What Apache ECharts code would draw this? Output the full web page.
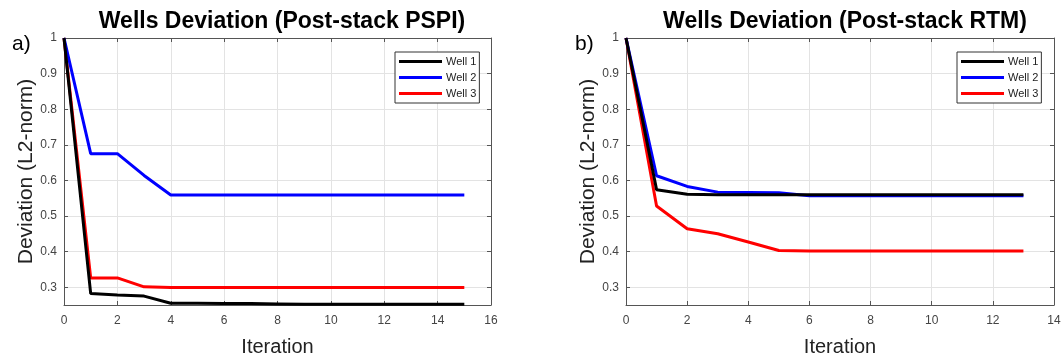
<!DOCTYPE html>
<html>
<head>
<meta charset="utf-8">
<script src="https://cdn.jsdelivr.net/npm/echarts@6/dist/echarts.min.js"></script>
<style>html,body{margin:0;padding:0;background:#fff}#c{width:1062px;height:358px}</style>
</head>
<body>
<div id="c"></div>
<script>
// Panel a) Post-stack PSPI, iterations 0..15
const iterA = [0,1,2,3,4,5,6,7,8,9,10,11,12,13,14,15];
const a_well1 = [1,0.282,0.278,0.275,0.255,0.255,0.254,0.254,0.253,0.252,0.252,0.252,0.252,0.252,0.252,0.252];
const a_well2 = [1,0.675,0.675,0.614,0.559,0.559,0.559,0.559,0.559,0.559,0.559,0.559,0.559,0.559,0.559,0.559];
const a_well3 = [1,0.326,0.326,0.301,0.299,0.299,0.299,0.299,0.299,0.299,0.299,0.299,0.299,0.299,0.299,0.299];
// Panel b) Post-stack RTM, iterations 0..13
const iterB = [0,1,2,3,4,5,6,7,8,9,10,11,12,13];
const b_well1 = [1,0.574,0.561,0.560,0.560,0.560,0.560,0.560,0.560,0.560,0.560,0.560,0.560,0.560];
const b_well2 = [1,0.613,0.583,0.567,0.566,0.565,0.557,0.557,0.557,0.557,0.557,0.557,0.557,0.557];
const b_well3 = [1,0.528,0.464,0.450,0.427,0.403,0.402,0.402,0.402,0.402,0.402,0.402,0.402,0.402];
const yTicks = [0.3,0.4,0.5,0.6,0.7,0.8,0.9,1];
const titles = ['Wells Deviation (Post-stack PSPI)','Wells Deviation (Post-stack RTM)'];
const panelLabels = ['a)','b)'];
const names = ['Well 1','Well 2','Well 3'];
const colors = ['#000000','#0000ff','#ff0000'];

const zip = (xs, ys) => xs.map((x,i)=>[x, ys[i]]);
const FONT = 'Liberation Sans, Arial, sans-serif';
const borderColor = '#555';
const gridColor = '#e3e3e3';

function xAxes(gi, max) {
  return [
    {type:'value', gridIndex:gi, position:'bottom', min:0, max:max, interval:2,
     name:'Iteration', nameLocation:'middle', nameGap:32,
     nameTextStyle:{fontSize:20, color:'#222', fontFamily:FONT},
     axisLine:{show:true, onZero:false, lineStyle:{color:borderColor, width:1}},
     axisTick:{show:true, inside:true, length:4, lineStyle:{color:borderColor}},
     axisLabel:{fontSize:12, color:'#444', margin:10, fontFamily:FONT},
     splitLine:{show:true, lineStyle:{color:gridColor, width:1}}},
    {type:'value', gridIndex:gi, position:'top', min:0, max:max, interval:2,
     axisLine:{show:true, onZero:false, lineStyle:{color:borderColor, width:1}},
     axisTick:{show:true, inside:true, length:4, lineStyle:{color:borderColor}},
     axisLabel:{show:false}, splitLine:{show:false}}
  ];
}
function yAxes(gi) {
  return [
    {type:'value', gridIndex:gi, position:'left', min:0.25, max:1,
     name:'Deviation (L2-norm)', nameLocation:'middle', nameGap:18,
     nameTextStyle:{fontSize:21, color:'#222', fontFamily:FONT},
     axisLine:{show:true, onZero:false, lineStyle:{color:borderColor, width:1}},
     axisTick:{show:true, inside:true, length:4, lineStyle:{color:borderColor}, customValues:yTicks},
     axisLabel:{fontSize:12, color:'#444', margin:7, fontFamily:FONT, customValues:yTicks,
       formatter: v => String(Math.round(v*10)/10)},
     splitLine:{show:true, lineStyle:{color:gridColor, width:1}}},
    {type:'value', gridIndex:gi, position:'right', min:0.25, max:1,
     axisLine:{show:true, onZero:false, lineStyle:{color:borderColor, width:1}},
     axisTick:{show:true, inside:true, length:4, lineStyle:{color:borderColor}, customValues:yTicks},
     axisLabel:{show:false, customValues:yTicks}, splitLine:{show:false}}
  ];
}
function mkSeries(xs, ysList, xi, yi) {
  return ysList.map((ys,k)=>({
    type:'line', name:names[k], xAxisIndex:xi, yAxisIndex:yi,
    data: zip(xs, ys), symbol:'none', showSymbol:false,
    lineStyle:{color:colors[k], width:3}, itemStyle:{color:colors[k]},
    z: 3 + (2-k), animation:false
  }));
}
function mkLegend(left) {
  return {
    left:left, top:52, orient:'vertical', data:names,
    icon:'rect', itemWidth:43, itemHeight:3, itemGap:3,
    padding:[3,3,3,4], borderColor:'#333', borderWidth:1, backgroundColor:'#fff',
    textStyle:{fontSize:11, color:'#222', lineHeight:13, padding:[0,0,0,-1], fontFamily:FONT},
    selectedMode:false
  };
}

const chart = echarts.init(document.getElementById('c'), null, {renderer:'canvas'});
chart.setOption({
  backgroundColor:'#fff',
  animation:false,
  title:[
    {text:titles[0], left:277, top:5, textAlign:'center',
     textStyle:{fontSize:23, fontWeight:'bold', color:'#000', fontFamily:FONT}},
    {text:titles[1], left:840, top:5, textAlign:'center',
     textStyle:{fontSize:23, fontWeight:'bold', color:'#000', fontFamily:FONT}},
    {text:panelLabels[0], left:7, top:29, textStyle:{fontSize:21, fontWeight:'normal', color:'#000', fontFamily:FONT}},
    {text:panelLabels[1], left:570, top:29, textStyle:{fontSize:21, fontWeight:'normal', color:'#000', fontFamily:FONT}}
  ],
  legend:[mkLegend(395), mkLegend(957)],
  grid:[
    {left:64, right:571, top:38, bottom:53, containLabel:false, outerBoundsMode:'none'},
    {left:626, right:8, top:38, bottom:53, containLabel:false, outerBoundsMode:'none'}
  ],
  xAxis:[...xAxes(0,16), ...xAxes(1,14)],
  yAxis:[...yAxes(0), ...yAxes(1)],
  series:[
    ...mkSeries(iterA,[a_well1,a_well2,a_well3],0,0),
    ...mkSeries(iterB,[b_well1,b_well2,b_well3],2,2)
  ]
});
</script>
</body>
</html>
